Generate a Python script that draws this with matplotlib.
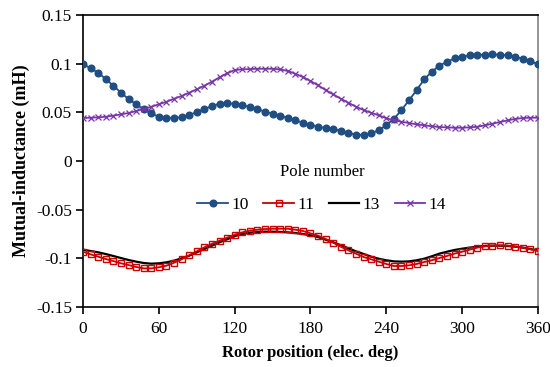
import numpy as np
import matplotlib
matplotlib.use("Agg")
import matplotlib.pyplot as plt

deg = list(range(0, 361, 6))

pole10 = [0.0997, 0.0952, 0.0907, 0.0842, 0.0774, 0.0702, 0.0637, 0.0583, 0.0531, 0.0490,
          0.0455, 0.0445, 0.0442, 0.0449, 0.0473, 0.0503, 0.0534, 0.0565, 0.0589, 0.0593,
          0.0590, 0.0575, 0.0555, 0.0534, 0.0507, 0.0486, 0.0466, 0.0445, 0.0418, 0.0394,
          0.0373, 0.0352, 0.0339, 0.0329, 0.0311, 0.0291, 0.0270, 0.0270, 0.0285, 0.0315,
          0.0368, 0.0432, 0.0524, 0.0624, 0.0729, 0.0839, 0.0918, 0.0979, 0.1020, 0.1055,
          0.1072, 0.1086, 0.1092, 0.1092, 0.1096, 0.1092, 0.1086, 0.1072, 0.1051, 0.1027,
          0.0994]

pole11 = [-0.0932, -0.0959, -0.0983, -0.1007, -0.1028, -0.1051, -0.1069, -0.1089, -0.1103, -0.1103,
          -0.1092, -0.1076, -0.1045, -0.1010, -0.0969, -0.0928, -0.0887, -0.0850, -0.0819, -0.0788,
          -0.0757, -0.0733, -0.0716, -0.0706, -0.0699, -0.0696, -0.0696, -0.0696, -0.0706, -0.0719,
          -0.0743, -0.0767, -0.0801, -0.0839, -0.0881, -0.0918, -0.0952, -0.0986, -0.1010, -0.1034,
          -0.1058, -0.1079, -0.1079, -0.1072, -0.1058, -0.1038, -0.1020, -0.0997, -0.0976, -0.0952,
          -0.0932, -0.0911, -0.0890, -0.0876, -0.0870, -0.0866, -0.0870, -0.0880, -0.0890, -0.0907,
          -0.0925]

pole13 = [-0.0911, -0.0925, -0.0938, -0.0956, -0.0976, -0.0997, -0.1017, -0.1034, -0.1048, -0.1055,
          -0.1051, -0.1041, -0.1024, -0.1000, -0.0973, -0.0938, -0.0904, -0.0870, -0.0835, -0.0804,
          -0.0772, -0.0750, -0.0737, -0.0729, -0.0726, -0.0726, -0.0729, -0.0733, -0.0740, -0.0750,
          -0.0763, -0.0781, -0.0808, -0.0835, -0.0866, -0.0897, -0.0928, -0.0955, -0.0983, -0.1004,
          -0.1020, -0.1031, -0.1034, -0.1031, -0.1020, -0.1004, -0.0979, -0.0952, -0.0932, -0.0914,
          -0.0901, -0.0890, -0.0880, -0.0873, -0.0870, -0.0870, -0.0873, -0.0880, -0.0890, -0.0904,
          -0.0918]

pole14 = [0.0442, 0.0445, 0.0449, 0.0455, 0.0466, 0.0480, 0.0493, 0.0514, 0.0534, 0.0558,
          0.0583, 0.0609, 0.0640, 0.0668, 0.0702, 0.0737, 0.0774, 0.0815, 0.0860, 0.0901,
          0.0935, 0.0942, 0.0945, 0.0948, 0.0948, 0.0948, 0.0942, 0.0925, 0.0897, 0.0863,
          0.0822, 0.0778, 0.0729, 0.0685, 0.0640, 0.0599, 0.0558, 0.0524, 0.0496, 0.0470,
          0.0439, 0.0418, 0.0404, 0.0390, 0.0377, 0.0367, 0.0357, 0.0349, 0.0346, 0.0342,
          0.0342, 0.0346, 0.0352, 0.0367, 0.0383, 0.0401, 0.0418, 0.0432, 0.0442, 0.0445,
          0.0445]

labels = ["10", "11", "13", "14"]
xticks = [0, 60, 120, 180, 240, 300, 360]
yticks = [-0.15, -0.1, -0.05, 0, 0.05, 0.1, 0.15]
yticklabels = ["-0.15", "-0.1", "-0.05", "0", "0.05", "0.1", "0.15"]

plt.rcParams['font.family'] = ['Liberation Serif', 'DejaVu Serif']

fig = plt.figure(figsize=(5.5, 3.67), dpi=100)
ax = fig.add_axes([0.151, 0.1635, 0.827, 0.7955])

ax.plot(deg, pole10, color='#1F4E82', lw=1.3, marker='o', ms=4.8, label=labels[0], zorder=3)
ax.plot(deg, pole11, color='#CC0000', lw=1.3, marker='s', ms=4.3, mfc='none', mew=1.0, label=labels[1], zorder=3)
ax.plot(deg, pole13, color='black', lw=1.6, label=labels[2], zorder=2)
ax.plot(deg, pole14, color='#7A35A8', lw=1.3, marker='x', ms=4, mew=0.9, label=labels[3], zorder=3)

ax.set_xlim(0, 360)
ax.set_ylim(-0.15, 0.15)
ax.set_xticks(xticks)
ax.set_yticks(yticks)
ax.set_yticklabels(yticklabels)
ax.tick_params(axis='both', direction='out', length=5, width=1.2, labelsize=12.5, pad=3)
ax.tick_params(axis='x', pad=5)
for s in ['left', 'bottom', 'top']:
    ax.spines[s].set_linewidth(1.2)
    ax.spines[s].set_color('black')
ax.spines['right'].set_color('#808080')
ax.spines['right'].set_linewidth(1.2)

ax.set_xlabel('Rotor position (elec. deg)', fontsize=12, fontweight='bold', labelpad=6)
ax.set_ylabel('Mutual-inductance (mH)', fontsize=13, fontweight='bold', labelpad=4)

leg = ax.legend(loc='center', bbox_to_anchor=(0.525, 0.405), ncol=4, frameon=False,
                title='Pole number', fontsize=12.5, title_fontsize=12,
                handlelength=1.75, columnspacing=0.85, handletextpad=0.2)
leg._legend_box.sep = 12

fig.savefig('out.png', dpi=100)
